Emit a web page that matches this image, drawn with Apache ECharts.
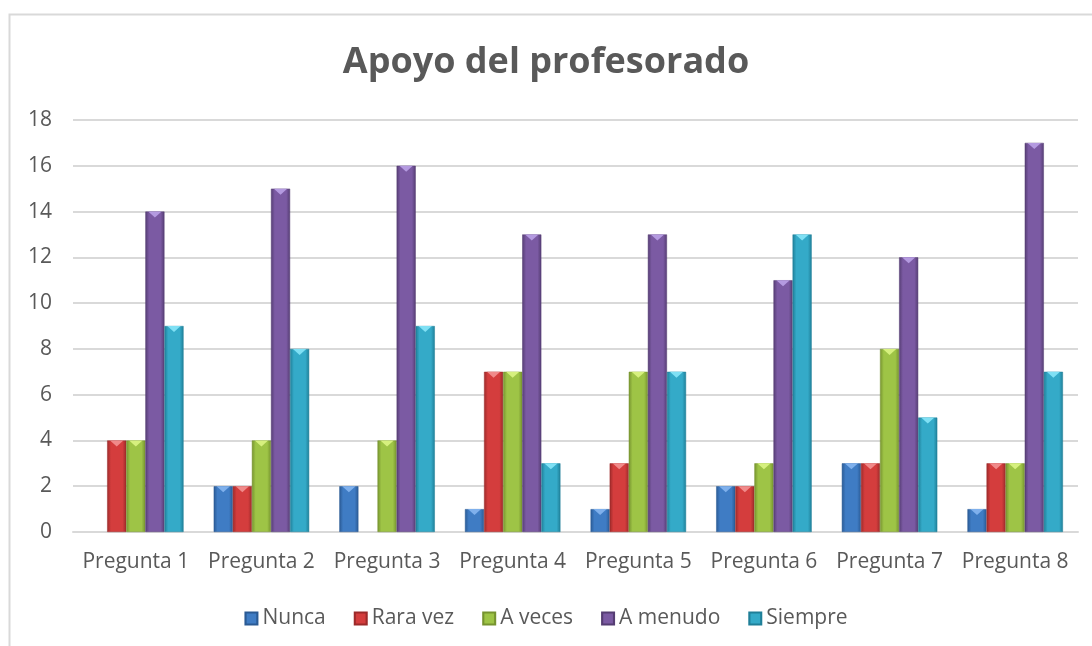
<!DOCTYPE html>
<html>
<head>
<meta charset="utf-8">
<script src="https://cdn.jsdelivr.net/npm/echarts@6/dist/echarts.min.js"></script>
<style>
  html, body { margin: 0; padding: 0; background: #fff; }
  #chart { width: 1092px; height: 646px; }
</style>
</head>
<body>
<div id="chart"></div>
<script>
const categories = ['Pregunta 1', 'Pregunta 2', 'Pregunta 3', 'Pregunta 4', 'Pregunta 5', 'Pregunta 6', 'Pregunta 7', 'Pregunta 8']
const nunca = [0, 2, 2, 1, 1, 2, 3, 1]
const raraVez = [4, 2, 0, 7, 3, 2, 3, 3]
const aVeces = [4, 4, 4, 7, 7, 3, 8, 3]
const aMenudo = [14, 15, 16, 13, 13, 11, 12, 17]
const siempre = [9, 8, 9, 3, 7, 13, 5, 7]
const yTicks = [0, 2, 4, 6, 8, 10, 12, 14, 16, 18]

const textColor = '#595959'

// bisel de Excel: bordes oscuros, centro claro
function bevel(dark, light) {
  return {
    type: 'linear', x: 0, y: 0, x2: 1, y2: 0,
    colorStops: [
      { offset: 0, color: dark },
      { offset: 0.2, color: light },
      { offset: 0.8, color: light },
      { offset: 1, color: dark }
    ]
  }
}

const seriesDefs = [
  { name: 'Nunca', data: nunca, dark: '#2a5a94', light: '#3f7cc4', top: '#7fb0ec' },
  { name: 'Rara vez', data: raraVez, dark: '#9c2a2a', light: '#d43d3d', top: '#f08a8a' },
  { name: 'A veces', data: aVeces, dark: '#76932f', light: '#9ec446', top: '#d6f07e' },
  { name: 'A menudo', data: aMenudo, dark: '#553d73', light: '#7b5aa3', top: '#b49ae0' },
  { name: 'Siempre', data: siempre, dark: '#1f7f98', light: '#34aac8', top: '#7fe0f4' }
]

// los ceros no se dibujan
const noZero = arr => arr.map(v => (v === 0 ? '-' : v))

const barSeries = seriesDefs.map(s => ({
  name: s.name,
  type: 'bar',
  data: noZero(s.data),
  barGap: '0%',
  barCategoryGap: '24%',
  itemStyle: {
    color: bevel(s.dark, s.light),
    borderColor: s.dark,
    borderWidth: 0.5
  }
}))

// chevron claro en la parte superior de cada barra
const capSeries = seriesDefs.map(s => ({
  name: s.name + ' tope',
  type: 'pictorialBar',
  data: noZero(s.data),
  barGap: '0%',
  barCategoryGap: '24%',
  symbol: 'path://M0,0 L10,0 L5,4 Z',
  symbolPosition: 'end',
  symbolSize: ['70%', 6],
  itemStyle: { color: s.top },
  silent: true,
  z: 3
}))

const chart = echarts.init(document.getElementById('chart'))
chart.setOption({
  animation: false,
  textStyle: { fontFamily: 'Open Sans' },
  graphic: [{
    type: 'rect',
    shape: { x: 9.5, y: 14.5, width: 1200, height: 800 },
    style: { fill: 'none', stroke: '#d9d9d9', lineWidth: 2 },
    silent: true
  }],
  title: {
    text: 'Apoyo del profesorado',
    left: 'center',
    top: 40,
    textStyle: { color: textColor, fontSize: 36, fontWeight: 'bold', fontFamily: 'Open Sans' }
  },
  legend: {
    bottom: 12,
    left: 'center',
    itemWidth: 12,
    itemHeight: 12,
    itemGap: 28,
    icon: 'rect',
    textStyle: { color: textColor, fontSize: 21 },
    data: seriesDefs.map(s => s.name)
  },
  grid: { left: 73, right: 14, top: 120, bottom: 114 },
  xAxis: {
    type: 'category',
    data: categories,
    axisLine: { lineStyle: { color: '#d9d9d9', width: 2 } },
    axisTick: { show: false },
    axisLabel: { color: textColor, fontSize: 21, margin: 20, interval: 0 }
  },
  yAxis: {
    type: 'value',
    min: yTicks[0],
    max: yTicks[yTicks.length - 1],
    interval: yTicks[1] - yTicks[0],
    axisLine: { show: false },
    axisTick: { show: false },
    axisLabel: { color: textColor, fontSize: 21, margin: 21 },
    splitLine: { lineStyle: { color: '#d9d9d9', width: 2 } }
  },
  series: barSeries.concat(capSeries)
})
</script>
</body>
</html>
